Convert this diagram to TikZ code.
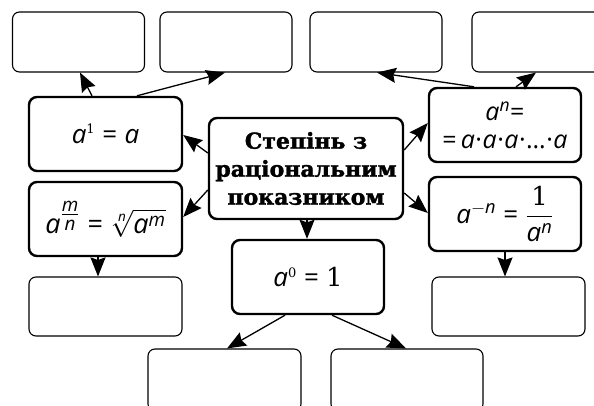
\RequirePackage{fix-cm}
\documentclass[tikz,border=0pt]{standalone}
\usepackage{amsmath}
\usepackage{fontspec}
\setmainfont{DejaVu Serif}
\newfontfamily\af{Open Sans}
\newfontfamily\df{DejaVu Serif}
\newfontfamily\cf{DejaVu Serif Bold}[FakeBold=1.5]
\usetikzlibrary{arrows.meta,calc}
\newcommand\va{\text{\af\itshape a}}
\newcommand\vn{\text{\af\itshape n}}
\newcommand\vm{\text{\af\itshape m}}
\newcommand\eqs{\mathrel{\text{\af =}}}
\newcommand\md{\text{\af\kern0.5pt·\kern0.5pt}}
\tikzset{
  thickbox/.style={draw, line width=2.4pt, rounded corners=8pt, inner sep=0pt, fill=white,
    font=\fontsize{26}{30}\selectfont, align=center},
  thinbox/.style={draw, line width=1.1pt, rounded corners=7pt, inner sep=0pt, fill=white,
    minimum width=132pt, minimum height=60pt},
  conn/.style={line width=1.3pt, -{Stealth[length=19pt,width=15pt,inset=2.5pt]}}
}
\begin{document}
\begin{tikzpicture}[x=1pt,y=-1pt]
\clip (0,0) rectangle (594,406);
\fill[white] (0,0) rectangle (594,406);
% empty boxes
\node[thinbox] (t1) at (78.5,42) {};
\node[thinbox] (t2) at (226,42) {};
\node[thinbox] (t3) at (376,42) {};
\node[thinbox] (t4) at (538,42) {};
\node[thinbox, minimum width=153pt, minimum height=59pt] (bl1) at (105.5,306.5) {};
\node[thinbox, minimum width=153pt, minimum height=59pt] (br1) at (508.5,306.5) {};
\node[thinbox, minimum width=153pt, minimum height=62pt] (b1) at (224.5,380) {};
\node[thinbox, minimum width=152pt, minimum height=62pt] (b2) at (407,380) {};
% formula boxes
\node[thickbox, minimum width=153pt, minimum height=74pt] (a1) at (105.5,134)
  {$\va^{\scriptscriptstyle\text{\df 1}} \eqs \va$};
\node[thickbox, minimum width=194pt, minimum height=101pt,
  font=\cf\fontsize{22}{28}\selectfont] (c) at (306,168.5)
  {Степінь з\\раціональним\\показником};
\node[thickbox, minimum width=152pt, minimum height=74pt,
  font=\fontsize{25}{28}\selectfont] (an) at (505,125)
  {$\va^{\scriptstyle\vn}\text{\af =}$\\$\text{\af =}\,\va\md\va\md\va\md\text{\af …}\md\va$};
\node[thickbox, minimum width=153pt, minimum height=74pt, font=\fontsize{27}{30}\selectfont] (amn) at (105.5,219)
  {$\va^{\tfrac{\vm}{\vn}} \eqs \sqrt[\vn]{\va^{\vm}}$};
\node[thickbox, minimum width=152pt, minimum height=74pt] (aneg) at (505,214)
  {$\va^{-\vn} \eqs \dfrac{\text{\df 1}}{\va^{\vn}}$};
\node[thickbox, minimum width=152pt, minimum height=74pt] (a0) at (308,277)
  {$\va^{\scriptscriptstyle\text{\df 0}} \eqs \text{\df 1}$};
% connectors
\draw[conn] ([xshift=-13.5pt]a1.north) -- ([xshift=1.5pt]t1.south);
\draw[conn] ([xshift=31.5pt]a1.north) -- ([xshift=-1pt]t2.south);
\draw[conn] ([yshift=15.5pt]c.west) -- ([yshift=-1pt]a1.east);
\draw[conn] ([yshift=-21.5pt]c.west) -- ([yshift=2pt]amn.east);
\draw[conn] ([yshift=18.5pt]c.east) -- ([yshift=2pt]an.west);
\draw[conn] ([yshift=-24.5pt]c.east) -- ([yshift=1pt]aneg.west);
\draw[conn] ([xshift=1pt]c.south) -- ([xshift=-1pt]a0.north);
\draw[conn] ([xshift=-31pt]an.north) -- ([xshift=1pt]t3.south);
\draw[conn] ([xshift=11pt]an.north) -- ([xshift=-2pt]t4.south);
\draw[conn] ([xshift=-7.5pt]amn.south) -- ([xshift=-7.5pt]bl1.north);
\draw[conn] (aneg.south) -- ([xshift=-3.5pt]br1.north);
\draw[conn] ([xshift=-23pt]a0.south) -- ([xshift=2.5pt]b1.north);
\draw[conn] ([xshift=24pt]a0.south) -- ([xshift=-1pt]b2.north);
\end{tikzpicture}
\end{document}
